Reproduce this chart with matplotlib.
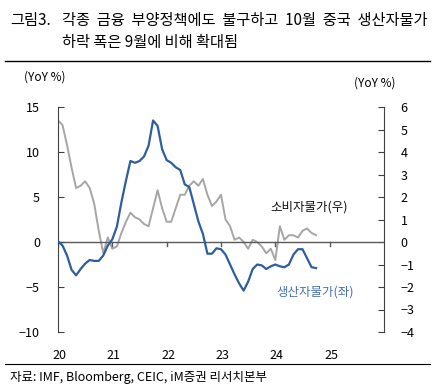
import numpy as np
import matplotlib.pyplot as plt

plt.rcParams['font.family'] = ['Noto Sans CJK KR', 'DejaVu Sans']

# monthly data, Jan 2020 - Oct 2024
ppi = [0.1, -0.4, -1.5, -3.1, -3.7, -3.0, -2.4, -2.0, -2.1, -2.1, -1.5, -0.4,
       0.3, 1.7, 4.4, 6.8, 9.0, 8.8, 9.0, 9.5, 10.7, 13.5, 12.9, 10.3,
       9.1, 8.8, 8.3, 8.0, 6.4, 6.1, 4.2, 2.3, 0.9, -1.3, -1.3, -0.7,
       -0.8, -1.4, -2.5, -3.6, -4.6, -5.4, -4.4, -3.0, -2.5, -2.6, -3.0, -2.7,
       -2.5, -2.7, -2.8, -2.5, -1.4, -0.8, -0.8, -1.8, -2.8, -2.9]
cpi = [5.4, 5.2, 4.3, 3.3, 2.4, 2.5, 2.7, 2.4, 1.7, 0.5, -0.5, 0.2,
       -0.3, -0.2, 0.4, 0.9, 1.3, 1.1, 1.0, 0.8, 0.7, 1.5, 2.3, 1.5,
       0.9, 0.9, 1.5, 2.1, 2.1, 2.5, 2.7, 2.5, 2.8, 2.1, 1.6, 1.8,
       2.1, 1.0, 0.7, 0.1, 0.2, 0.0, -0.3, 0.1, 0.0, -0.2, -0.5, -0.3,
       -0.8, 0.7, 0.1, 0.3, 0.3, 0.2, 0.5, 0.6, 0.4, 0.3]
year_labels = ['20', '21', '22', '23', '24', '25']

BLUE = '#2E5E9E'
GRAY = '#A6A6A6'


def main():
    t = 2020 + np.arange(len(ppi)) / 12.0

    fig = plt.figure(figsize=(4.34, 3.92), dpi=100)
    W, H = 434.0, 392.0
    ax = fig.add_axes([58 / W, (H - 332) / H, (384 - 58) / W, (332 - 107) / H])
    ax2 = ax.twinx()

    ax.plot(t, ppi, color=BLUE, lw=1.6, zorder=3)
    ax2.plot(t, cpi, color=GRAY, lw=1.4, zorder=2)
    ax.set_zorder(ax2.get_zorder() + 1)
    ax.patch.set_visible(False)

    ax.set_xlim(2020, 2026)
    ax.set_ylim(-10, 15)
    ax2.set_ylim(-4, 6)
    ax.set_yticks(np.arange(-10, 16, 5))
    ax2.set_yticks(np.arange(-4, 7, 1))

    ax.axhline(0, color='#595959', lw=1.0, zorder=1)
    for y in range(2020, 2026):
        ax.plot([y, y], [0, -0.45], color='#595959', lw=1.0, zorder=1)

    for s in ['top', 'bottom']:
        ax.spines[s].set_visible(False)
        ax2.spines[s].set_visible(False)
    ax.spines['right'].set_visible(False)
    ax2.spines['left'].set_visible(False)
    ax.spines['left'].set_color('#404040')
    ax2.spines['right'].set_color('#404040')

    ax.tick_params(axis='y', direction='in', length=4, pad=13, labelsize=9,
                   color='#404040')
    ax2.tick_params(axis='y', direction='in', length=4, pad=12, labelsize=9,
                    color='#404040')
    ax.set_xticks(np.arange(2020, 2026) + 0.03)
    ax.set_xticklabels(year_labels)
    ax.tick_params(axis='x', length=0, pad=12, labelsize=9)
    ax2.tick_params(axis='x', length=0)

    fig.text(270 / W, 1 - 207 / H, '소비자물가(우)', fontsize=9, color='#111111',
             va='center', ha='left')
    fig.text(276 / W, 1 - 292 / H, '생산자물가(좌)', fontsize=9, color='#4A74AE',
             va='center', ha='left')

    fig.text(24 / W, 1 - 77 / H, '(YoY %)', fontsize=8.5, va='center')
    fig.text(354 / W, 1 - 83 / H, '(YoY %)', fontsize=8.5, va='center')

    fig.text(10 / W, 1 - 20 / H, '그림3.', fontsize=11, va='center')
    fig.text(62 / W, 1 - 20 / H,
             '각종  금융  부양정책에도  불구하고  10월  중국  생산자물가',
             fontsize=11, va='center')
    fig.text(62 / W, 1 - 42 / H, '하락 폭은 9월에 비해 확대됨',
             fontsize=11, va='center')
    fig.add_artist(plt.Line2D([5 / W, 430 / W], [1 - 61 / H, 1 - 61 / H],
                              color='black', lw=1.0))
    fig.add_artist(plt.Line2D([5 / W, 430 / W], [1 - 364 / H, 1 - 364 / H],
                              color='black', lw=0.8))
    fig.text(10 / W, 1 - 377 / H, '자료: IMF, Bloomberg, CEIC, iM증권 리서치본부',
             fontsize=9, va='center')

    fig.savefig('out.png', dpi=100)


if __name__ == "__main__":
    main()
